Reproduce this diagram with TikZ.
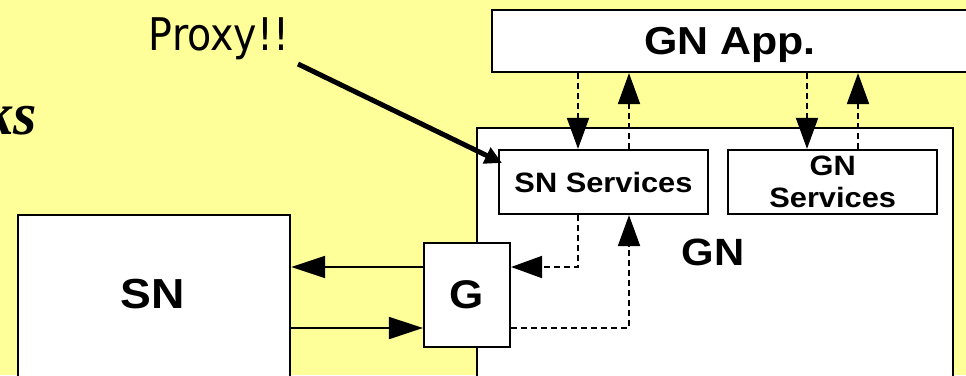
\documentclass[tikz,border=0pt]{standalone}
\usepackage{fontspec}
\setmainfont{Liberation Sans}[FakeStretch=1.1]
\newfontfamily\proxyfont{DejaVu Sans}[FakeStretch=0.88]
\newfontfamily\titlefont{Liberation Serif}
\usetikzlibrary{arrows.meta, positioning}
\definecolor{notepad}{HTML}{FFFF99}

\begin{document}
\begin{tikzpicture}[
x=1pt, y=-1pt,
every node/.style={align=center, inner sep=0pt, font=\bfseries},
arrow/.style={-{Triangle[length=34pt,width=22pt]}, line width=2pt},
dasharrow/.style={-{Triangle[length=31pt,width=22pt]}, line width=2pt, dash pattern=on 6pt off 4pt}
]

% Define styles
\tikzstyle{block} = [rectangle, draw=black, fill=white, line width=2.2pt, text depth=0pt]
\tikzstyle{svc} = [block, minimum width=209, minimum height=64, font=\bfseries\fontsize{28}{32}\selectfont]

% Background
\useasboundingbox (0,0) rectangle (966,375);
\fill [notepad] (0,0) rectangle (966,375);

% Nodes
\node (title) [anchor=base east, font=\titlefont\bfseries\itshape\fontsize{60}{60}\selectfont] at (37,134) {ks};
\node (proxy) [anchor=base, font=\proxyfont\fontsize{45}{45}\selectfont] at (219,50) {Proxy!!};

\node (app) [block, minimum width=476, minimum height=62, font=\bfseries\fontsize{39}{39}\selectfont] at (730,41) {GN App.};

\node (gn) [block, anchor=north west, minimum width=476, minimum height=300] at (476,127) {};
\node (gnlabel) [font=\bfseries\fontsize{38}{38}\selectfont] at (713,252) {GN};

\node (snsvc) [svc] at (603.5,182) {SN Services};
\node (gnsvc) [svc, right=18 of snsvc] {GN\\Services};

\node (g) [block, minimum width=86, minimum height=104, font=\bfseries\fontsize{40}{40}\selectfont] at (467,295) {G};

\node (sn) [block, anchor=north west, minimum width=272, minimum height=190] at (17,214) {};
\node (snlabel) [font=\bfseries\fontsize{42}{42}\selectfont] at (153,294) {SN};

% Columns and rows for the connectors
\coordinate (svcdown) at (578,0);
\coordinate (svcup) at (629,0);
\coordinate (gndown) at (807,0);
\coordinate (gnup) at (858,0);
\coordinate (toSN) at (0,267);
\coordinate (toG) at (0,328);
\coordinate (proxytail) at (298,64);

% Arrows
\draw [dasharrow] (app.south -| svcdown) -- (snsvc.north -| svcdown);
\draw [dasharrow] (snsvc.north -| svcup) -- (app.south -| svcup);
\draw [dasharrow] (app.south -| gndown) -- (gnsvc.north -| gndown);
\draw [dasharrow] (gnsvc.north -| gnup) -- (app.south -| gnup);

\draw [arrow] (g.west |- toSN) -- (sn.east |- toSN);
\draw [arrow] (sn.east |- toG) -- (g.west |- toG);

\draw [dasharrow] (snsvc.south -| svcdown) |- (g.east |- toSN);
\draw [dasharrow] (g.east |- toG) -| (snsvc.south -| svcup);

\draw [line width=5pt, -{Triangle[length=17pt,width=17pt]}] (proxytail) -- ([shift={(4,14)}]snsvc.north west);

\end{tikzpicture}
\end{document}
